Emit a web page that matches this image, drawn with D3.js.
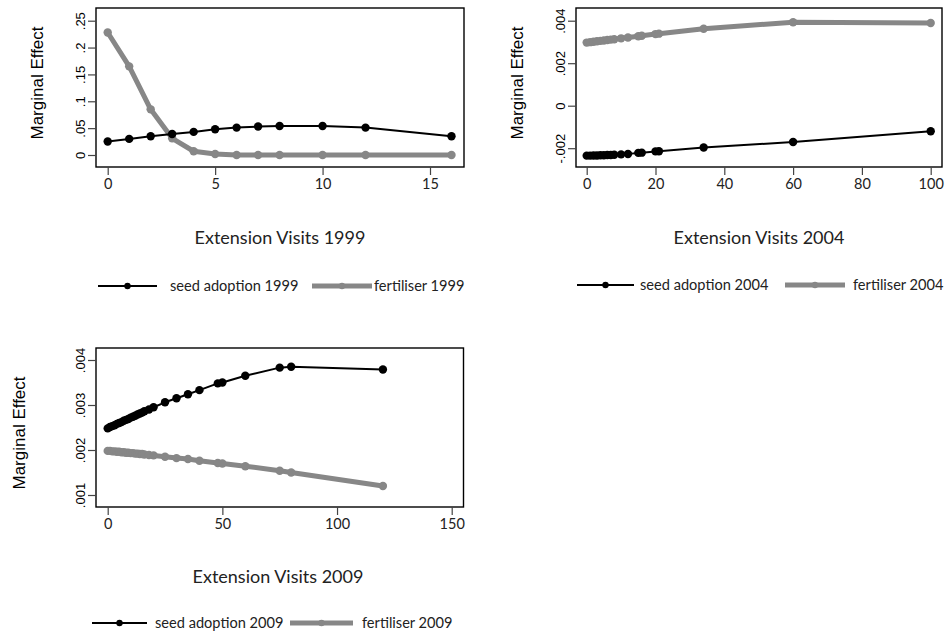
<!DOCTYPE html>
<html>
<head>
<meta charset="utf-8">
<script src="https://cdn.jsdelivr.net/npm/d3@7"></script>
<style>
  body { margin: 0; background: #fff; }
  svg { display: block; }
  .lab { font-family: Lato, "Open Sans", sans-serif; fill: #222; }
  .ylab { font-family: "Liberation Sans", Arial, sans-serif; fill: #000; }
</style>
</head>
<body>
<div id="chart"></div>
<script>
// Marginal effects of extension visits, three survey rounds

// 1999
const visits1999 = [0, 1, 2, 3, 4, 5, 6, 7, 8, 10, 12, 16];
const seed1999 = [0.025, 0.030, 0.035, 0.039, 0.043, 0.048, 0.051, 0.053, 0.054, 0.054, 0.051, 0.035];
const fert1999 = [0.228, 0.165, 0.085, 0.031, 0.007, 0.002, 0, 0, 0, 0, 0, 0];
const xTicks1999 = [0, 5, 10, 15];
const yTicks1999 = [0, 0.05, 0.1, 0.15, 0.2, 0.25];
const yTickLabels1999 = ["0", ".05", ".1", ".15", ".2", ".25"];

// 2004
const visits2004 = [0, 1, 2, 3, 4, 5, 6, 7, 8, 10, 12, 15, 16, 20, 21, 34, 60, 100];
const seed2004 = [-0.00235, -0.00235, -0.00234, -0.00234, -0.00233, -0.00233, -0.00232, -0.00232, -0.00231,
  -0.00229, -0.00227, -0.00222, -0.00221, -0.00215, -0.00214, -0.00197, -0.00171, -0.00120];
const fert2004 = [0.00297, 0.00299, 0.00301, 0.00303, 0.00305, 0.00307, 0.00309, 0.00311, 0.00313,
  0.00317, 0.00321, 0.00327, 0.00329, 0.00337, 0.00339, 0.00362, 0.00393, 0.00389];
const xTicks2004 = [0, 20, 40, 60, 80, 100];
const yTicks2004 = [-0.002, 0, 0.002, 0.004];
const yTickLabels2004 = ["-.002", "0", ".002", ".004"];

// 2009
const visits2009 = [0, 1, 2, 3, 4, 5, 6, 7, 8, 9, 10, 11, 12, 13, 14, 15, 16, 18, 20, 25, 30, 35, 40, 48, 50, 60, 75, 80, 120];
const seed2009 = [0.00248, 0.00251, 0.00253, 0.00255, 0.00258, 0.00260, 0.00262, 0.00265, 0.00267, 0.00269,
  0.00272, 0.00274, 0.00276, 0.00279, 0.00281, 0.00283, 0.00286, 0.00290, 0.00295, 0.00306, 0.00315,
  0.00324, 0.00333, 0.00348, 0.00350, 0.00365, 0.00383, 0.00385, 0.00379];
const fert2009 = [0.00198, 0.00198, 0.00197, 0.00197, 0.00196, 0.00196, 0.00195, 0.00195, 0.00194, 0.00194,
  0.00193, 0.00193, 0.00192, 0.00192, 0.00191, 0.00191, 0.00190, 0.00189, 0.00188, 0.00185, 0.00182,
  0.00180, 0.00176, 0.00171, 0.00170, 0.00164, 0.00154, 0.00150, 0.00120];
const xTicks2009 = [0, 50, 100, 150];
const yTicks2009 = [0.001, 0.002, 0.003, 0.004];
const yTickLabels2009 = [".001", ".002", ".003", ".004"];

const BLACK = "#000", GREY = "#878787";

const svg = d3.select("#chart").append("svg")
  .attr("width", 949).attr("height", 637);

function panel(p) {
  const g = svg.append("g");
  const x = d3.scaleLinear().domain(p.xd).range(p.xr);
  const y = d3.scaleLinear().domain(p.yd).range(p.yr);
  const b = p.box;

  // plot region
  g.append("rect")
    .attr("x", b[0]).attr("y", b[1]).attr("width", b[2] - b[0]).attr("height", b[3] - b[1])
    .attr("fill", "none").attr("stroke", "#000").attr("stroke-width", 1.4);

  // bottom axis
  const xa = g.append("g").attr("transform", `translate(0,${b[3]})`)
    .call(d3.axisBottom(x).tickValues(p.xTicks).tickSize(8).tickPadding(4).tickFormat(d3.format("d")));
  xa.select(".domain").remove();
  xa.selectAll("line").attr("stroke", "#444").attr("stroke-width", 1.2);
  xa.selectAll("text").attr("class", "lab").style("font-size", "14.5px").attr("fill", "#222");

  // left axis, labels rotated
  const ya = g.append("g").attr("transform", `translate(${b[0]},0)`)
    .call(d3.axisLeft(y).tickValues(p.yTicks).tickSize(8).tickFormat((d, i) => p.yLabels[i]));
  ya.select(".domain").remove();
  ya.selectAll("line").attr("stroke", "#444").attr("stroke-width", 1.2);
  ya.selectAll("text")
    .attr("class", "ylab")
    .style("font-size", "13px")
    .attr("x", null)
    .attr("text-anchor", "middle")
    .attr("transform", "translate(-16,0) rotate(-90)")
    .attr("dy", "0.35em");

  // y title
  g.append("text").attr("class", "ylab")
    .attr("transform", `translate(${p.ytitle[0]},${p.ytitle[1]}) rotate(-90)`)
    .attr("text-anchor", "middle").attr("dy", "0.35em")
    .style("font-size", "17px")
    .text("Marginal Effect");

  // x title
  g.append("text").attr("class", "lab")
    .attr("x", p.xtitle[0]).attr("y", p.xtitle[1])
    .attr("text-anchor", "middle").attr("dy", "0.35em")
    .style("font-size", "18px")
    .text("Extension Visits " + p.year);

  const line = d3.line().x(d => x(d[0])).y(d => y(d[1]));
  const series = [
    { vals: p.fert, color: GREY, w: 5, r: 4.2 },
    { vals: p.seed, color: BLACK, w: 2, r: 4.2 }
  ];
  series.forEach(s => {
    const pts = p.visits.map((v, i) => [v, s.vals[i]]);
    g.append("path").datum(pts)
      .attr("d", line).attr("fill", "none")
      .attr("stroke", s.color).attr("stroke-width", s.w)
      .attr("stroke-linejoin", "round");
    g.selectAll(null).data(pts).join("circle")
      .attr("cx", d => x(d[0])).attr("cy", d => y(d[1]))
      .attr("r", s.r).attr("fill", s.color);
  });

  // legend
  const L = p.legend;
  const items = [
    { x0: L.k0, x1: L.k1, tx: L.t0, color: BLACK, w: 2, label: "seed adoption " + p.year },
    { x0: L.k2, x1: L.k3, tx: L.t1, color: GREY, w: 5, label: "fertiliser " + p.year }
  ];
  items.forEach(it => {
    g.append("line").attr("x1", it.x0).attr("x2", it.x1).attr("y1", L.y).attr("y2", L.y)
      .attr("stroke", it.color).attr("stroke-width", it.w);
    g.append("circle").attr("cx", (it.x0 + it.x1) / 2).attr("cy", L.y).attr("r", 3.2).attr("fill", it.color);
    g.append("text").attr("class", "lab")
      .attr("x", it.tx).attr("y", L.y).attr("dy", "0.35em")
      .style("font-size", "14.6px")
      .text(it.label);
  });
}

panel({
  year: 1999, visits: visits1999, seed: seed1999, fert: fert1999,
  xd: [0, 15], xr: [107.7, 430], yd: [0, 0.25], yr: [155, 20.7],
  box: [96, 8, 464, 167],
  xTicks: xTicks1999, yTicks: yTicks1999, yLabels: yTickLabels1999,
  ytitle: [37, 83], xtitle: [280, 238],
  legend: { y: 286, k0: 98, k1: 157, t0: 170, k2: 312, k3: 372, t1: 374 }
});

panel({
  year: 2004, visits: visits2004, seed: seed2004, fert: fert2004,
  xd: [0, 100], xr: [586.7, 930.7], yd: [0, 0.004], yr: [105.7, 20.7],
  box: [576, 8, 942, 167],
  xTicks: xTicks2004, yTicks: yTicks2004, yLabels: yTickLabels2004,
  ytitle: [517, 83], xtitle: [759, 238],
  legend: { y: 285, k0: 577, k1: 634, t0: 640, k2: 785, k3: 845, t1: 853 }
});

panel({
  year: 2009, visits: visits2009, seed: seed2009, fert: fert2009,
  xd: [0, 150], xr: [107.7, 451.7], yd: [0.001, 0.004], yr: [495, 360],
  box: [96, 348, 463.5, 507],
  xTicks: xTicks2009, yTicks: yTicks2009, yLabels: yTickLabels2009,
  ytitle: [19, 433], xtitle: [278, 577],
  legend: { y: 623, k0: 92, k1: 147, t0: 155, k2: 290, k3: 353, t1: 362 }
});
</script>
</body>
</html>
